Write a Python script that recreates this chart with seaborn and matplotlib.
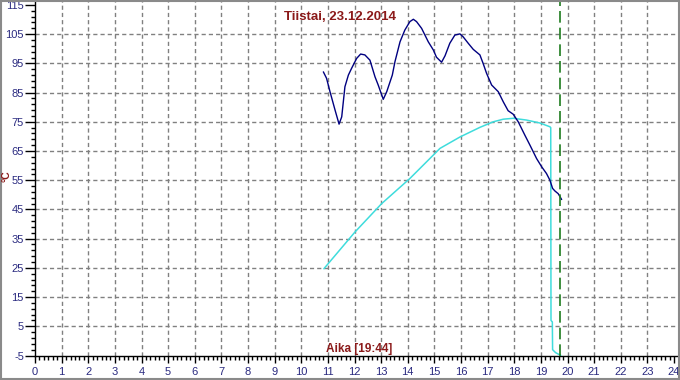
import matplotlib
matplotlib.use("Agg")
import matplotlib.pyplot as plt
import seaborn as sns
import pandas as pd
import numpy as np
from matplotlib.patches import Rectangle
from matplotlib.ticker import MultipleLocator, FixedLocator

# ---- data ----
title_text = "Tiistai, 23.12.2014"
xlabel_text = "Aika [19:44]"
ylabel_text = "°C"
now_hour = 19 + 44 / 60

blue_x = [10.83, 10.95, 11.08, 11.27, 11.42, 11.52, 11.64, 11.77, 11.89, 12.08,
          12.23, 12.39, 12.58, 12.77, 12.89, 13.08, 13.21, 13.42, 13.52, 13.71,
          13.89, 14.08, 14.21, 14.33, 14.52, 14.77, 14.96, 15.08, 15.27, 15.40,
          15.58, 15.77, 15.96, 16.08, 16.27, 16.46, 16.71, 16.83, 16.96, 17.15,
          17.40, 17.59, 17.77, 17.96, 18.15, 18.40, 18.59, 18.84, 19.03, 19.21,
          19.34, 19.44, 19.53, 19.65, 19.78]
blue_y = [92.1, 89.9, 85.3, 79.0, 74.2, 76.7, 87.0, 91.0, 93.3, 96.7,
          98.2, 97.9, 96.1, 90.4, 87.6, 82.7, 85.3, 91.0, 95.6, 102.4,
          106.4, 109.3, 110.1, 109.3, 107.0, 102.4, 99.6, 97.1, 95.4, 97.6,
          101.9, 104.7, 105.1, 104.1, 101.9, 99.8, 97.9, 95.0, 91.6, 87.6,
          85.3, 81.8, 78.8, 77.6, 75.0, 70.4, 67.0, 62.4, 59.6, 57.3,
          55.0, 52.2, 51.3, 50.4, 48.4]

cyan_x = [10.85, 12.02, 13.02, 14.08, 15.08, 15.21, 15.96, 16.71, 17.21, 17.59,
          17.96, 18.46, 18.96, 19.34, 19.37, 19.38, 19.43, 19.44, 19.55, 19.75]
cyan_y = [24.7, 37.3, 47.0, 55.6, 64.7, 65.9, 69.8, 73.1, 75.0, 75.9,
          76.2, 75.6, 74.6, 73.3, 73.0, 7.0, 6.5, -3.0, -4.0, -5.0]

y_ticks = list(range(-5, 116, 10))
x_ticks = list(range(0, 25))

# ---- styling ----
sns.set_style("white")
plt.rcParams['font.family'] = ['Liberation Sans', 'DejaVu Sans']
plt.rcParams['axes.unicode_minus'] = False

red = "#8b1a1a"
navy_txt = "#2a2a80"

fig = plt.figure(figsize=(6.8, 3.8), dpi=100)
fig.patch.set_facecolor("white")
ax = fig.add_axes([35 / 680, (380 - 355.5) / 380, (678 - 35) / 680, 355.5 / 380])

df_b = pd.DataFrame({"x": blue_x, "y": blue_y})
df_c = pd.DataFrame({"x": cyan_x, "y": cyan_y})

sns.lineplot(data=df_c, x="x", y="y", ax=ax, color="#3fdcdc", lw=1.1,
             sort=False, estimator=None, zorder=3)
sns.lineplot(data=df_b, x="x", y="y", ax=ax, color="#000080", lw=1.0,
             sort=False, estimator=None, zorder=4)
ax.axvline(now_hour, color="#1e7b1e", lw=1.2, dashes=(7, 3), zorder=5)

ax.set_xlim(0, 24.15)
ax.set_ylim(-5, 116.7)
ax.set_xlabel("")
ax.set_ylabel("")

ax.xaxis.set_major_locator(FixedLocator(x_ticks))
ax.xaxis.set_minor_locator(MultipleLocator(1 / 6))
ax.yaxis.set_major_locator(FixedLocator(y_ticks))
ax.yaxis.set_minor_locator(FixedLocator(np.arange(-5, 116, 2)))

ax.tick_params(axis="y", which="major", direction="out", length=7, width=1,
               color="black", labelsize=8, labelcolor=navy_txt, pad=1, left=True)
ax.tick_params(axis="y", which="minor", direction="out", length=3, width=1,
               color="black", left=True)
ax.tick_params(axis="x", which="major", direction="out", length=5, width=1,
               color="black", labelsize=8, labelcolor=navy_txt, pad=3, bottom=True)
ax.tick_params(axis="x", which="minor", direction="out", length=3, width=1,
               color="black", bottom=True)

ax.grid(True, which="major", color="#808080", lw=1, dashes=(3, 2.2))
for gl, v in zip(ax.get_xgridlines(), x_ticks):
    if v in (0, 24):
        gl.set_visible(False)
for gl, v in zip(ax.get_ygridlines(), y_ticks):
    if v in (-5, 115):
        gl.set_visible(False)

for s in ["top", "right"]:
    ax.spines[s].set_visible(False)
for s in ["left", "bottom"]:
    ax.spines[s].set_color("black")
    ax.spines[s].set_linewidth(1)

fig.text(340 / 680, 1 - 17.5 / 380, title_text, ha="center", va="center",
         fontsize=9.5, fontweight="bold", color=red)
fig.text(359.5 / 680, 1 - 349 / 380, xlabel_text, ha="center", va="center",
         fontsize=8.5, fontweight="bold", color=red)
fig.text(7 / 680, 1 - 176 / 380, ylabel_text, ha="center", va="center",
         rotation=90, fontsize=7.5, fontweight="bold", color=red)

fig.patches.append(Rectangle((0.001, 0.002), 0.997, 0.996, transform=fig.transFigure,
                             fill=False, edgecolor="#8a8a8a", lw=1.5))

fig.savefig("out.png", dpi=100)
